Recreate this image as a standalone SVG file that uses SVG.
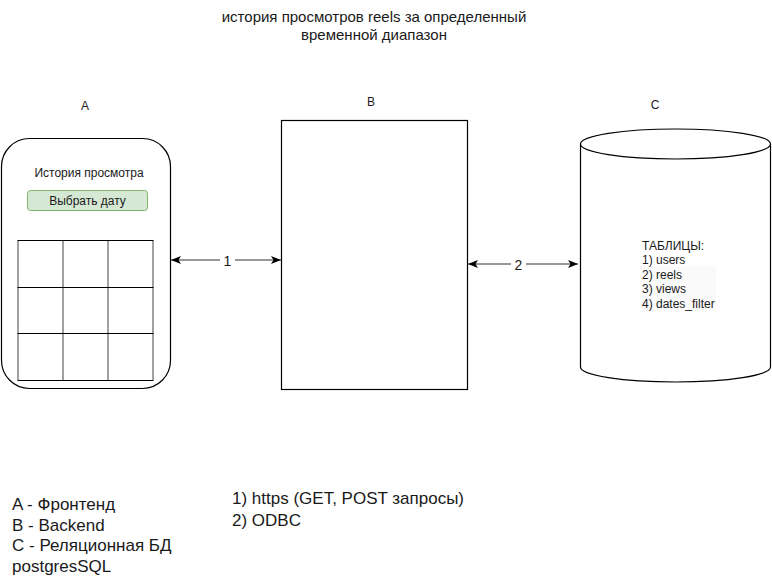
<svg xmlns="http://www.w3.org/2000/svg" width="772" height="585" viewBox="0 0 772 585">
  <style>
    text { font-family: "Liberation Sans", Arial, sans-serif; fill: #1a1a1a; }
    .lbl { font-size: 12px; text-anchor: middle; }
    .title { font-size: 15px; text-anchor: middle; }
    .note { font-size: 17px; }
    .tbl { font-size: 12px; }
    .edge-lbl { font-size: 14px; text-anchor: middle; }
    .shape { fill: #ffffff; stroke: #000000; stroke-width: 1.2; }
    .grid-h { stroke: #000000; stroke-width: 1; }
    .grid-v { stroke: #808080; stroke-width: 1.5; }
    .conn { stroke: #333333; stroke-width: 1; fill: none; }
  </style>
  <defs>
    <marker id="arrow" viewBox="0 0 10 8" refX="10" refY="4" markerWidth="10" markerHeight="8" markerUnits="userSpaceOnUse" orient="auto-start-reverse">
      <path d="M10,4 L0,0 L2.5,4 L0,8 Z" fill="#000000"/>
    </marker>
  </defs>

  <rect width="772" height="585" fill="#ffffff"/>

  <!-- title -->
  <g id="title">
    <text class="title" x="374" y="22">история просмотров reels за определенный</text>
    <text class="title" x="374" y="40">временной диапазон</text>
  </g>

  <!-- component letters -->
  <g id="letters">
    <text class="lbl" x="85" y="110">A</text>
    <text class="lbl" x="371" y="106">B</text>
    <text class="lbl" x="655" y="109">C</text>
  </g>

  <!-- A: frontend mockup -->
  <g id="frontend">
    <rect class="shape" x="1.5" y="138.5" width="169" height="250" rx="28" ry="28"/>
    <text x="89" y="177" style="font-size:12px;text-anchor:middle">История просмотра</text>
    <g id="date-button">
      <rect x="27.5" y="190.5" width="120" height="20" rx="3" ry="3" fill="#d5e8d4" stroke="#82b366" stroke-width="1"/>
      <text x="87.5" y="205" style="font-size:12px;text-anchor:middle">Выбрать дату</text>
    </g>
    <g id="results-table">
      <line class="grid-v" x1="18" y1="240.5" x2="18" y2="380"/>
      <line class="grid-v" x1="63" y1="240.5" x2="63" y2="380"/>
      <line class="grid-v" x1="108" y1="240.5" x2="108" y2="380"/>
      <line class="grid-v" x1="153" y1="240.5" x2="153" y2="380"/>
      <line class="grid-h" x1="17.5" y1="240.5" x2="153.5" y2="240.5"/>
      <line class="grid-h" x1="17.5" y1="287.5" x2="153.5" y2="287.5"/>
      <line class="grid-h" x1="17.5" y1="333.5" x2="153.5" y2="333.5"/>
      <line class="grid-h" x1="17.5" y1="380.5" x2="153.5" y2="380.5"/>
    </g>
  </g>

  <!-- B: backend -->
  <g id="backend">
    <rect class="shape" x="281.5" y="120.5" width="186" height="269"/>
  </g>

  <!-- C: relational database -->
  <g id="database">
    <path class="shape" d="M580.5,144 L580.5,367 A95,15 0 0 0 770.5,367 L770.5,144"/>
    <ellipse class="shape" cx="675.5" cy="144" rx="95" ry="15"/>
    <rect x="641" y="266" width="75" height="45" fill="#fafafa"/>
    <text class="tbl" x="642" y="249.5">ТАБЛИЦЫ:</text>
    <text class="tbl" x="642" y="264">1) users</text>
    <text class="tbl" x="642" y="278.5">2) reels</text>
    <text class="tbl" x="642" y="293">3) views</text>
    <text class="tbl" x="642" y="307.5">4) dates_filter</text>
  </g>

  <!-- connectors -->
  <g id="connectors">
    <g id="link-1">
      <line class="conn" x1="171" y1="260" x2="281" y2="260" marker-start="url(#arrow)" marker-end="url(#arrow)"/>
      <rect x="220" y="252" width="15" height="16" fill="#ffffff"/>
      <text class="edge-lbl" x="227.5" y="265.5">1</text>
    </g>
    <g id="link-2">
      <line class="conn" x1="468" y1="264" x2="578" y2="264" marker-start="url(#arrow)" marker-end="url(#arrow)"/>
      <rect x="511" y="256" width="15" height="16" fill="#ffffff"/>
      <text class="edge-lbl" x="518.5" y="269.5">2</text>
    </g>
  </g>

  <!-- legend -->
  <g id="legend-components">
    <text class="note" x="12" y="510">A - Фронтенд</text>
    <text class="note" x="12" y="530.5">B - Backend</text>
    <text class="note" x="12" y="551">C - Реляционная БД</text>
    <text class="note" x="12" y="571.5">postgresSQL</text>
  </g>
  <g id="legend-links">
    <text class="note" x="232" y="504">1) https (GET, POST запросы)</text>
    <text class="note" x="232" y="526">2) ODBC</text>
  </g>
</svg>
